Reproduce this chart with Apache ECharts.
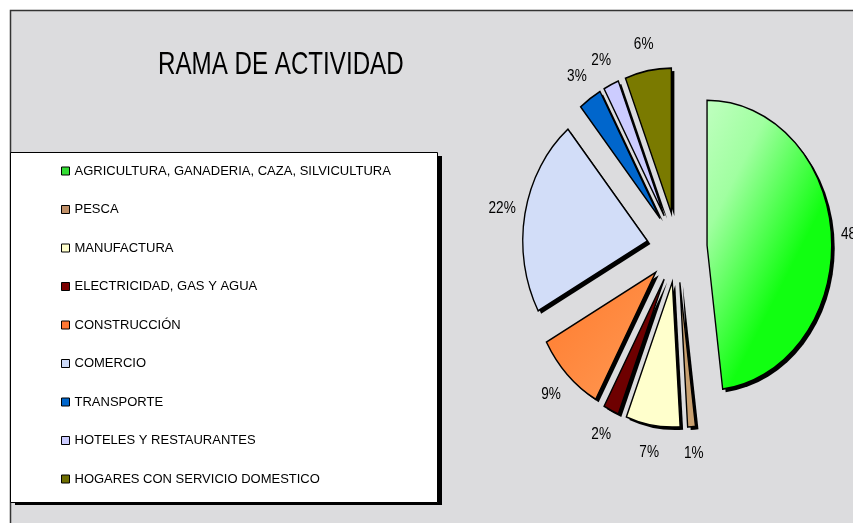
<!DOCTYPE html>
<html>
<head>
<meta charset="utf-8">
<script src="https://cdn.jsdelivr.net/npm/echarts@6/dist/echarts.min.js"></script>
<style>
  html, body { margin: 0; padding: 0; background: #fff; }
  #chart { width: 853px; height: 523px; }
</style>
</head>
<body>
<div id="chart"></div>
<script>
// datos del gráfico
const categories = [
  'AGRICULTURA, GANADERIA, CAZA, SILVICULTURA',
  'PESCA',
  'MANUFACTURA',
  'ELECTRICIDAD, GAS Y AGUA',
  'CONSTRUCCIÓN',
  'COMERCIO',
  'TRANSPORTE',
  'HOTELES Y RESTAURANTES',
  'HOGARES CON SERVICIO DOMESTICO'
]
const values = [48, 1, 7, 2, 9, 22, 3, 2, 6]

// colores de la leyenda y de las porciones
const swatchColors = ['#33dd33', '#c09068', '#ffffcc', '#7a0000', '#ff7733', '#ccd9f8', '#0066cc', '#ccccff', '#6e6e00']
const sliceFills = [
  new echarts.graphic.LinearGradient(0, 0, 1, 0.3, [
    { offset: 0, color: '#c0ffc0' },
    { offset: 0.4, color: '#a0ffa0' },
    { offset: 1, color: '#11ff11' }
  ]),
  '#c8a070',
  '#ffffcc',
  '#6e0000',
  new echarts.graphic.LinearGradient(0, 0, 1, 1, [
    { offset: 0, color: '#ff7a2c' },
    { offset: 1, color: '#ff9a55' }
  ]),
  '#d2ddf8',
  '#0066cc',
  '#ccccff',
  '#7a7a00'
]

// geometría de la torta (elipse)
const CX = 677, CY = 247.5, R = 145, EXPLODE = 35, SX = 0.86, LABEL_R = 207
const SHADOW = 3

const total = values.reduce((a, b) => a + b, 0)

function renderSlice (params, api) {
  const i = params.seriesIndex
  let start = 0
  for (let j = 0; j < i; j++) start += values[j]
  const a0 = start / total * Math.PI * 2
  const a1 = (start + api.value(0)) / total * Math.PI * 2
  const mid = (a0 + a1) / 2
  const ox = EXPLODE * Math.sin(mid)
  const oy = -EXPLODE * Math.cos(mid)
  const shape = {
    cx: ox, cy: oy, r: R, r0: 0,
    startAngle: a0 - Math.PI / 2,
    endAngle: a1 - Math.PI / 2,
    clockwise: true
  }
  return {
    type: 'group',
    children: [
      {
        type: 'group',
        x: CX,
        y: CY,
        scaleX: SX,
        children: [
          {
            // sombra
            type: 'sector',
            z2: 0,
            shape: Object.assign({}, shape, { cx: ox + SHADOW / SX, cy: oy + SHADOW }),
            style: { fill: '#000' }
          },
          {
            type: 'sector',
            z2: 10,
            shape: shape,
            style: { fill: sliceFills[i], stroke: '#000', lineWidth: 1.6 }
          }
        ]
      },
      {
        type: 'text',
        z2: 20,
        x: CX + SX * LABEL_R * Math.sin(mid),
        y: CY - LABEL_R * Math.cos(mid),
        scaleX: 0.8,
        style: {
          text: api.value(0) + '%',
          fill: '#000',
          font: '17px "Liberation Sans", Arial, sans-serif',
          align: 'center',
          verticalAlign: 'middle'
        }
      }
    ]
  }
}

const chart = echarts.init(document.getElementById('chart'))

chart.setOption({
  backgroundColor: '#fff',
  animation: false,
  graphic: [
    {
      type: 'rect',
      z: -10,
      silent: true,
      shape: { x: 10.5, y: 10.5, width: 860, height: 540 },
      style: { fill: '#dcdcde', stroke: '#333', lineWidth: 1.5 }
    },
    {
      // sombra de la leyenda
      type: 'rect',
      z: -6,
      silent: true,
      shape: { x: 15, y: 156, width: 427, height: 349 },
      style: { fill: '#000' }
    },
    {
      type: 'rect',
      z: -5,
      silent: true,
      shape: { x: 10.5, y: 152.5, width: 427, height: 350 },
      style: { fill: '#fff', stroke: '#000', lineWidth: 1 }
    },
    {
      type: 'text',
      z: 5,
      silent: true,
      x: 158,
      y: 49,
      scaleX: 0.755,
      style: {
        text: 'RAMA DE ACTIVIDAD',
        font: '32px "Liberation Sans", Arial, sans-serif',
        fill: '#000'
      }
    }
  ],
  legend: {
    orient: 'vertical',
    left: 61,
    top: 163,
    padding: 0,
    itemWidth: 8,
    itemHeight: 8,
    itemGap: 22.5,
    icon: 'rect',
    selectedMode: false,
    itemStyle: { borderColor: '#000', borderWidth: 1 },
    textStyle: {
      fontFamily: '"Liberation Sans", Arial, sans-serif',
      fontSize: 13,
      lineHeight: 16,
      color: '#000'
    },
    data: categories
  },
  series: categories.map((name, i) => ({
    type: 'custom',
    name: name,
    coordinateSystem: 'none',
    itemStyle: { color: swatchColors[i] },
    renderItem: renderSlice,
    data: [[values[i]]]
  }))
})
</script>
</body>
</html>
